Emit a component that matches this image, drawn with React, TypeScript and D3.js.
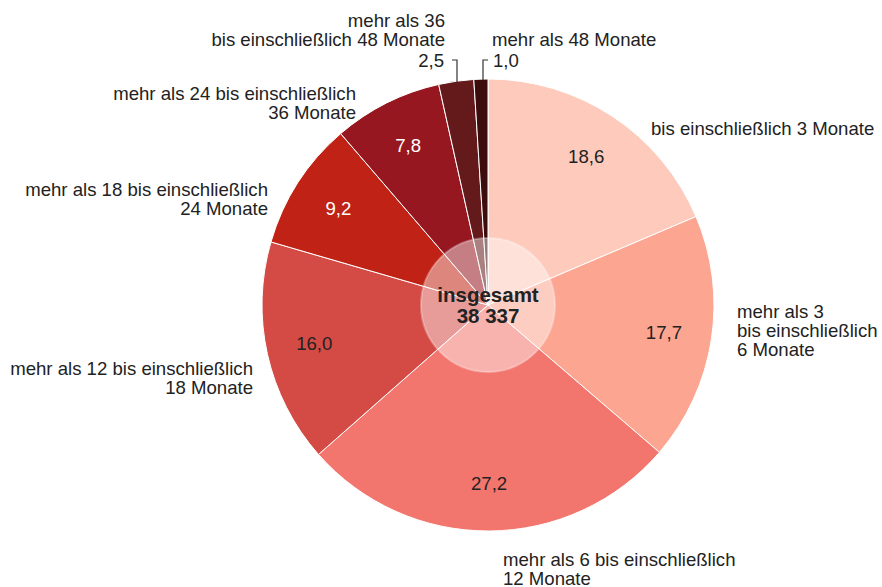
import React, { useEffect, useRef } from "react";
import * as d3 from "d3";

// share of cases by duration, in percent (clockwise from 12 o'clock)
const categories = [
  "bis einschließlich 3 Monate",
  "mehr als 3|bis einschließlich|6 Monate",
  "mehr als 6 bis einschließlich|12 Monate",
  "mehr als 12 bis einschließlich|18 Monate",
  "mehr als 18 bis einschließlich|24 Monate",
  "mehr als 24 bis einschließlich|36 Monate",
  "mehr als 36|bis einschließlich 48 Monate",
  "mehr als 48 Monate",
];
const values = [18.6, 17.7, 27.2, 16.0, 9.2, 7.8, 2.5, 1.0];
const valueLabels = ["18,6", "17,7", "27,2", "16,0", "9,2", "7,8", "2,5", "1,0"];
const colors = ["#fdcabb", "#fca591", "#f2766d", "#d44b45", "#c02315", "#961720", "#641a1a", "#3d0c0c"];
const totalLabel = "insgesamt";
const totalValue = "38 337";

// where the category text sits, relative to the pie centre
const labelLayout = [
  { dx: 163, dy: -177, anchor: "start" },
  { dx: 249, dy: 6, anchor: "start" },
  { dx: 15, dy: 254, anchor: "start" },
  { dx: -235, dy: 63, anchor: "end" },
  { dx: -220, dy: -116, anchor: "end" },
  { dx: -132, dy: -212, anchor: "end" },
  { dx: -43, dy: -285, anchor: "end" },
  { dx: 4, dy: -266, anchor: "start" },
];

const W = 882, H = 587;
const cx = 488, cy = 305, R = 226;
const lineH = 19;
const fs = "18.6px";
const font = "'Liberation Sans', Arial, Helvetica, sans-serif";

export default function App() {
  const ref = useRef<SVGSVGElement>(null);

  useEffect(() => {
    const svg = d3.select(ref.current);
    svg.selectAll("*").remove();
    const g = svg.append("g").attr("transform", `translate(${cx},${cy})`);

    const pie = d3.pie<number>().sort(null).value(d => d);
    const arcs = pie(values);
    const arc = d3.arc<d3.PieArcDatum<number>>().innerRadius(0).outerRadius(R);
    const labelArc = d3.arc<d3.PieArcDatum<number>>().innerRadius(178).outerRadius(178);

    g.selectAll("path.slice")
      .data(arcs)
      .join("path")
      .attr("class", "slice")
      .attr("d", arc)
      .attr("fill", (d, i) => colors[i])
      .attr("stroke", "#fff")
      .attr("stroke-width", 1);

    // inner values for the larger slices
    g.selectAll("text.val")
      .data(arcs.filter(d => d.data > 5))
      .join("text")
      .attr("class", "val")
      .attr("transform", d => `translate(${labelArc.centroid(d)})`)
      .attr("text-anchor", "middle")
      .attr("dy", "0.35em")
      .style("font-family", font)
      .style("font-size", fs)
      .style("fill", d => (d.index >= 4 ? "#fff" : "#222"))
      .text(d => valueLabels[d.index]);

    // category labels
    arcs.forEach((d, i) => {
      const lay = labelLayout[i];
      const lines = categories[i].split("|");
      const t = g.append("text")
        .attr("text-anchor", lay.anchor)
        .style("font-family", font)
        .style("font-size", fs)
        .style("fill", "#222");
      lines.forEach((ln, k) => {
        t.append("tspan")
          .attr("x", lay.dx)
          .attr("y", lay.dy + k * lineH)
          .attr("dy", "0.35em")
          .text(ln);
      });
    });

    // small slices: value outside with a leader line
    const small = arcs.filter(d => d.data < 5);
    small.forEach(d => {
      const lay = labelLayout[d.index];
      const lines = categories[d.index].split("|");
      const vy = lay.dy + lines.length * lineH + 2;
      const isEnd = lay.anchor === "end";
      const tx = isEnd ? lay.dx - 1 : lay.dx + 1;
      g.append("text")
        .attr("x", tx)
        .attr("y", vy)
        .attr("dy", "0.35em")
        .attr("text-anchor", lay.anchor)
        .style("font-family", font)
        .style("font-size", fs)
        .style("fill", "#222")
        .text(valueLabels[d.index]);
      const x0 = isEnd ? tx + 8 : tx - 5;
      const x1 = isEnd ? x0 + 5 : x0 - 5;
      const yArc = -Math.sqrt(R * R - x1 * x1) + 1;
      g.append("path")
        .attr("d", `M${x0},${vy}H${x1}V${yArc}`)
        .attr("fill", "none")
        .attr("stroke", "#333")
        .attr("stroke-width", 1.2);
    });

    // centre disc
    g.append("circle")
      .attr("r", 67)
      .attr("fill", "#fff")
      .attr("fill-opacity", 0.45)
      .attr("stroke", "#fff")
      .attr("stroke-opacity", 0.3)
      .attr("stroke-width", 2);

    g.append("text")
      .attr("text-anchor", "middle")
      .style("font-family", font)
      .style("font-size", "20.5px")
      .style("font-weight", "bold")
      .style("fill", "#222")
      .selectAll("tspan")
      .data([totalLabel, totalValue])
      .join("tspan")
      .attr("x", 0)
      .attr("y", (d, i) => -3 + i * 21)
      .text(d => d);
  }, []);

  return (
    <svg ref={ref} width={W} height={H} style={{ position: "absolute", left: 0, top: 0, background: "#fff" }} />
  );
}
